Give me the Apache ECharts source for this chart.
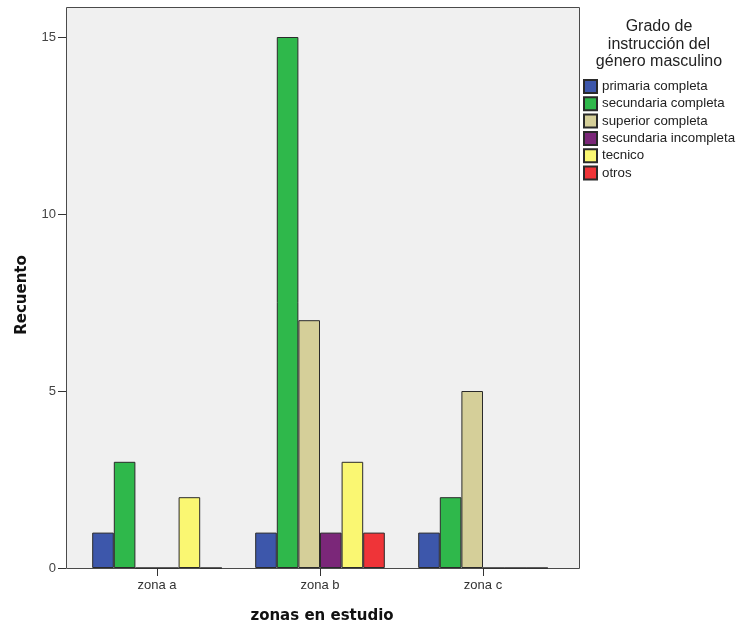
<!DOCTYPE html>
<html>
<head>
<meta charset="utf-8">
<script src="https://cdn.jsdelivr.net/npm/echarts@6/dist/echarts.min.js"></script>
<style>html,body{margin:0;padding:0;background:#fff;}#c{width:738px;height:630px;}</style>
</head>
<body>
<div id="c"></div>
<script>
var categories = ['zona a', 'zona b', 'zona c'];
var seriesNames = ['primaria completa', 'secundaria completa', 'superior completa', 'secundaria incompleta', 'tecnico', 'otros'];
var primariaCompleta = [1, 1, 1];
var secundariaCompleta = [3, 15, 2];
var superiorCompleta = [0, 7, 5];
var secundariaIncompleta = [0, 1, 0];
var tecnico = [2, 3, 0];
var otros = [0, 1, 0];
var yTicks = [0, 5, 10, 15];
var seriesValues = [primariaCompleta, secundariaCompleta, superiorCompleta, secundariaIncompleta, tecnico, otros];
var colors = ['#3d57ab', '#2fb84b', '#d5cf99', '#7b2779', '#faf772', '#ef3438'];

var chart = echarts.init(document.getElementById('c'), null, {renderer: 'canvas'});
var series = seriesNames.map(function (n, i) {
  return {
    name: n, type: 'bar', data: seriesValues[i], barWidth: 21.6, barGap: '0%',
    itemStyle: {color: colors[i], borderColor: '#2a2a2a', borderWidth: 1},
    emphasis: {disabled: true}, animation: false
  };
});
chart.setOption({
  animation: false,
  textStyle: {fontFamily: 'Liberation Sans'},
  title: {
    text: 'Grado de\ninstrucción del\ngénero masculino',
    left: 659, top: 18, textAlign: 'center', padding: 0,
    textStyle: {fontSize: 16, fontWeight: 'normal', color: '#222', lineHeight: 17.5, fontFamily: 'Liberation Sans'}
  },
  legend: {
    orient: 'vertical', left: 583, top: 79, itemWidth: 13, itemHeight: 13, itemGap: 2.3, padding: 0,
    icon: 'rect', data: seriesNames,
    textStyle: {fontSize: 13.3, color: '#222', lineHeight: 14, fontFamily: 'Liberation Sans'}
  },
  graphic: [
    {type: 'rect', z: -10, shape: {x: 66.5, y: 7.5, width: 513, height: 561},
     style: {fill: '#f0f0f0', stroke: '#4a4a4a', lineWidth: 1}},
    {type: 'text', x: 22, y: 295, rotation: Math.PI / 2,
     style: {text: 'Recuento', fontSize: 15, fontWeight: 'bold', fontFamily: 'DejaVu Sans', fill: '#111', align: 'center', verticalAlign: 'middle'}},
    {type: 'text', x: 322, y: 616,
     style: {text: 'zonas en estudio', fontSize: 15, fontWeight: 'bold', fontFamily: 'DejaVu Sans', fill: '#111', align: 'center', verticalAlign: 'middle'}}
  ],
  grid: {left: 75.5, right: 173.5, top: 37, bottom: 62, containLabel: false},
  xAxis: {
    type: 'category', data: categories,
    axisLine: {show: false},
    axisTick: {show: true, alignWithLabel: true, length: 8, lineStyle: {color: '#333'}},
    axisLabel: {fontSize: 13, color: '#333', margin: 11}
  },
  yAxis: {
    type: 'value', min: 0, max: 15, interval: 5, offset: 9.5,
    splitLine: {show: false},
    axisLine: {show: false},
    axisTick: {show: true, length: 8, lineStyle: {color: '#333'}},
    axisLabel: {fontSize: 13, color: '#444', margin: 10,
      formatter: function (v) { return yTicks.indexOf(v) >= 0 ? String(v) : ''; }}
  },
  series: series
});
</script>
</body>
</html>
